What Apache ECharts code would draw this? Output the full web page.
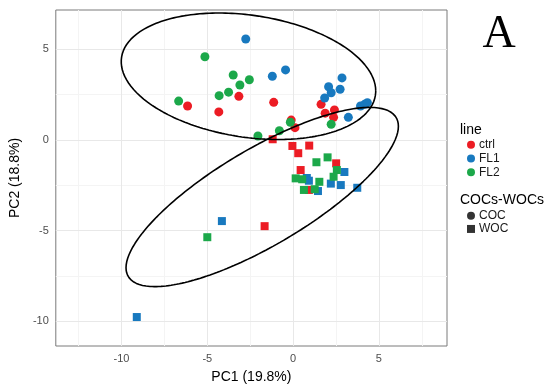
<!DOCTYPE html>
<html><head><meta charset="utf-8">
<script src="https://cdn.jsdelivr.net/npm/echarts@6/dist/echarts.min.js"></script>
<style>html,body{margin:0;padding:0;background:#fff}#c{width:550px;height:390px}</style>
</head><body><div id="c"></div>
<script>
// ---- data ----
const ctrlCOC = [[-3.16,2.41],[-6.15,1.88],[-1.13,2.08],[-4.33,1.55],[-0.11,1.10],[0.11,0.68],[1.63,1.97],[1.87,1.48],[2.41,1.66],[2.36,1.25]];
const fl1COC  = [[-2.76,5.58],[-0.44,3.87],[-1.21,3.52],[2.85,3.43],[2.07,2.94],[2.22,2.61],[2.74,2.80],[1.84,2.32],[3.93,1.88],[4.17,1.97],[4.33,2.06],[3.22,1.25]];
const fl2COC  = [[-5.14,4.60],[-3.49,3.59],[-2.55,3.33],[-3.10,3.04],[-3.76,2.64],[-4.31,2.45],[-6.67,2.15],[-0.16,0.98],[-0.80,0.51],[-2.05,0.22],[2.22,0.87]];
const ctrlWOC = [[-1.19,0.04],[-0.04,-0.33],[0.94,-0.31],[0.30,-0.73],[2.51,-1.29],[0.44,-1.66],[0.92,-2.76],[-1.66,-4.76]];
const fl1WOC  = [[2.99,-1.77],[0.80,-2.10],[0.92,-2.25],[2.20,-2.41],[2.78,-2.49],[1.45,-2.82],[3.74,-2.64],[-4.15,-4.48],[-9.11,-9.78]];
const fl2WOC  = [[2.01,-0.96],[1.36,-1.23],[2.55,-1.66],[2.36,-2.03],[0.15,-2.12],[0.53,-2.17],[1.53,-2.31],[0.63,-2.76],[1.26,-2.72],[-5.00,-5.37]];
// ellipse parameters: centre and covariance [sxx, sxy, syy]
const cocEllipseCenter = [-2.6, 3.52];
const cocEllipseCov = [55, -6.0, 12.2];
const wocEllipseCenter = [-1.8, -3.15];
const wocEllipseCov = [63, 31, 24.5];
const groups = ['ctrl','FL1','FL2'];
const groupColors = ['#EC1C24','#1879BF','#1CA84A'];
const xTicks = [-10,-5,0,5];
const yTicks = [-10,-5,0,5];
const xMinor = [-12.5,-7.5,-2.5,2.5,7.5];
const yMinor = [-7.5,-2.5,2.5];
const xRange = [-13.83, 8.97];
const yRange = [-11.38, 7.18];

function ellipse(c, cov, n) {
  const l11 = Math.sqrt(cov[0]), l21 = cov[1]/l11, l22 = Math.sqrt(cov[2]-l21*l21);
  const pts = [];
  for (let i = 0; i <= n; i++) {
    const t = 2*Math.PI*i/n;
    pts.push([c[0]+l11*Math.cos(t), c[1]+l21*Math.cos(t)+l22*Math.sin(t)]);
  }
  return pts;
}

const chart = echarts.init(document.getElementById('c'), null, {renderer:'canvas'});
const font = 'Liberation Sans, Arial, sans-serif';
const cocData = [ctrlCOC, fl1COC, fl2COC];
const wocData = [ctrlWOC, fl1WOC, fl2WOC];
const series = [];
// gridlines
series.push({
  type:'line', data:[], silent:true, z:0,
  markLine:{ silent:true, symbol:'none', label:{show:false}, animation:false, z:1,
    data: [
      ...xMinor.map(v=>({xAxis:v, lineStyle:{color:'#f4f4f4', width:1, type:'solid'}})),
      ...yMinor.map(v=>({yAxis:v, lineStyle:{color:'#f4f4f4', width:1, type:'solid'}})),
      ...xTicks.map(v=>({xAxis:v, lineStyle:{color:'#e8e8e8', width:1, type:'solid'}})),
      ...yTicks.map(v=>({yAxis:v, lineStyle:{color:'#e8e8e8', width:1, type:'solid'}}))
    ]}
});
groups.forEach((g,i)=>{
  series.push({name:g, type:'scatter', data:cocData[i], symbol:'circle', symbolSize:9,
    itemStyle:{color:groupColors[i], opacity:1}, z:3});
});
groups.forEach((g,i)=>{
  series.push({name:g, type:'scatter', data:wocData[i], symbol:'rect', symbolSize:8,
    itemStyle:{color:groupColors[i], opacity:1}, z:3});
});
series.push({name:'COC', type:'scatter', data:[], symbol:'circle', itemStyle:{color:'#000'}});
series.push({name:'WOC', type:'scatter', data:[], symbol:'rect', itemStyle:{color:'#000'}});
series.push({type:'line', data:ellipse(cocEllipseCenter, cocEllipseCov, 240), showSymbol:false, symbol:'none',
  lineStyle:{color:'#000', width:1.6}, z:4, silent:true});
series.push({type:'line', data:ellipse(wocEllipseCenter, wocEllipseCov, 240), showSymbol:false, symbol:'none',
  lineStyle:{color:'#000', width:1.6}, z:4, silent:true});

chart.setOption({
  animation:false,
  backgroundColor:'#fff',
  grid:{left:50, top:10, width:397, height:336, show:true, borderColor:'#7a7a7a', borderWidth:1, backgroundColor:'transparent'},
  xAxis:{type:'value', min:xRange[0], max:xRange[1],
    name:'PC1 (19.8%)', nameLocation:'middle', nameGap:24,
    nameTextStyle:{fontFamily:font, fontSize:14, color:'#000'},
    axisLine:{show:false}, splitLine:{show:false},
    axisTick:{show:true, length:4, lineStyle:{color:'#555'}, customValues:xTicks},
    axisLabel:{fontFamily:font, fontSize:11, color:'#4d4d4d', margin:7, customValues:xTicks}},
  yAxis:{type:'value', min:yRange[0], max:yRange[1],
    name:'PC2 (18.8%)', nameLocation:'middle', nameGap:29, nameRotate:90,
    nameTextStyle:{fontFamily:font, fontSize:14, color:'#000'},
    axisLine:{show:false}, splitLine:{show:false},
    axisTick:{show:true, length:4, lineStyle:{color:'#555'}, customValues:yTicks},
    axisLabel:{fontFamily:font, fontSize:11, color:'#4d4d4d', margin:7, customValues:yTicks}},
  legend:[
    {data:groups.map(g=>({name:g, icon:'circle'})), orient:'vertical', left:462, top:133,
     itemWidth:8, itemHeight:8, itemGap:0, selectedMode:false,
     textStyle:{fontFamily:font, fontSize:12, color:'#1a1a1a', lineHeight:13.7, padding:[0,0,0,-1]}},
    {data:[{name:'COC', icon:'circle'},{name:'WOC', icon:'rect'}], orient:'vertical', left:462, top:204,
     itemWidth:8, itemHeight:8, itemGap:0, selectedMode:false,
     textStyle:{fontFamily:font, fontSize:12, color:'#1a1a1a', lineHeight:13.3, padding:[0,0,0,-1]}}
  ],
  graphic:[
    {type:'text', left:460, top:123, style:{text:'line', font:'14px Liberation Sans, Arial, sans-serif', fill:'#000'}},
    {type:'text', left:460, top:193, style:{text:'COCs-WOCs', font:'14px Liberation Sans, Arial, sans-serif', fill:'#000'}},
    {type:'text', x:499, y:35, style:{text:'A', font:'46px Liberation Serif, Times New Roman, serif', fill:'#000', align:'center', verticalAlign:'middle'}}
  ],
  series: series
});
</script></body></html>
